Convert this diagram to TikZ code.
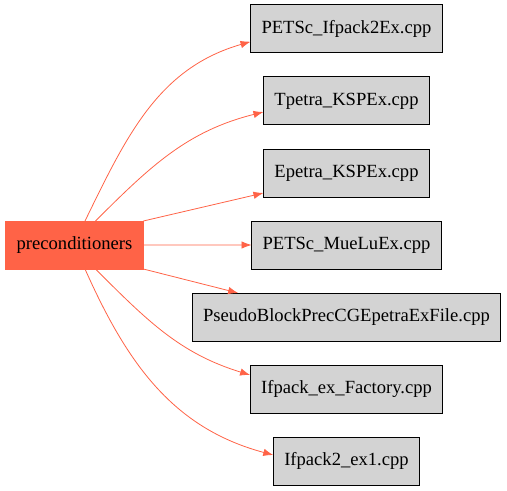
\documentclass[tikz,border=0pt]{standalone}
\usepackage{fontspec}
\setmainfont{Liberation Serif}
\usetikzlibrary{arrows.meta,positioning}
\definecolor{tomato}{HTML}{FF6347}
\definecolor{boxgray}{HTML}{D3D3D3}
\begin{document}
\begin{tikzpicture}[x=1bp,y=1bp,node distance=24bp,every node/.style={font=\fontsize{18.6bp}{22bp}\selectfont},>={Latex[length=10bp,width=7.5bp]},
  file/.style={draw=black,fill=boxgray,line width=1bp,minimum height=48bp,inner xsep=11bp,inner ysep=0pt,outer sep=0pt},
  src/.style={draw=tomato,fill=tomato,line width=1bp,minimum height=48bp,inner xsep=11bp,inner ysep=0pt,outer sep=0pt},
  dep/.style={->,draw=tomato,line width=0.8bp}]
  \useasboundingbox (0,0) rectangle (507,-491);
  \node[src] (pre) at (74.5,-245) {preconditioners};
  \node[file] (n1) at (346.5,-29) {PETSc\_Ifpack2Ex.cpp};
  \node[file,below=of n1] (n2) {Tpetra\_KSPEx.cpp};
  \node[file,below=of n2] (n3) {Epetra\_KSPEx.cpp};
  \node[file,below=of n3] (n4) {PETSc\_MueLuEx.cpp};
  \node[file,below=of n4] (n5) {PseudoBlockPrecCGEpetraExFile.cpp};
  \node[file,below=of n5] (n6) {Ifpack\_ex\_Factory.cpp};
  \node[file,below=of n6] (n7) {Ifpack2\_ex1.cpp};
  \draw[dep] ([xshift=10.5bp]pre.north) to[out=64,in=196] ([yshift=-12.7bp]n1.west);
  \draw[dep] ([xshift=21bp]pre.north) to[out=45,in=194] ([yshift=-11bp]n2.west);
  \draw[dep] (pre.north east) -- ([yshift=4bp]n3.south west);
  \draw[dep] (pre) -- (n4);
  \draw[dep] (pre.south east) -- ([xshift=46bp]n5.north west);
  \draw[dep] ([xshift=21bp]pre.south) to[out=-45,in=163] ([yshift=14bp]n6.west);
  \draw[dep] ([xshift=10.5bp]pre.south) to[out=-66,in=165] ([yshift=6bp]n7.west);
\end{tikzpicture}
\end{document}
